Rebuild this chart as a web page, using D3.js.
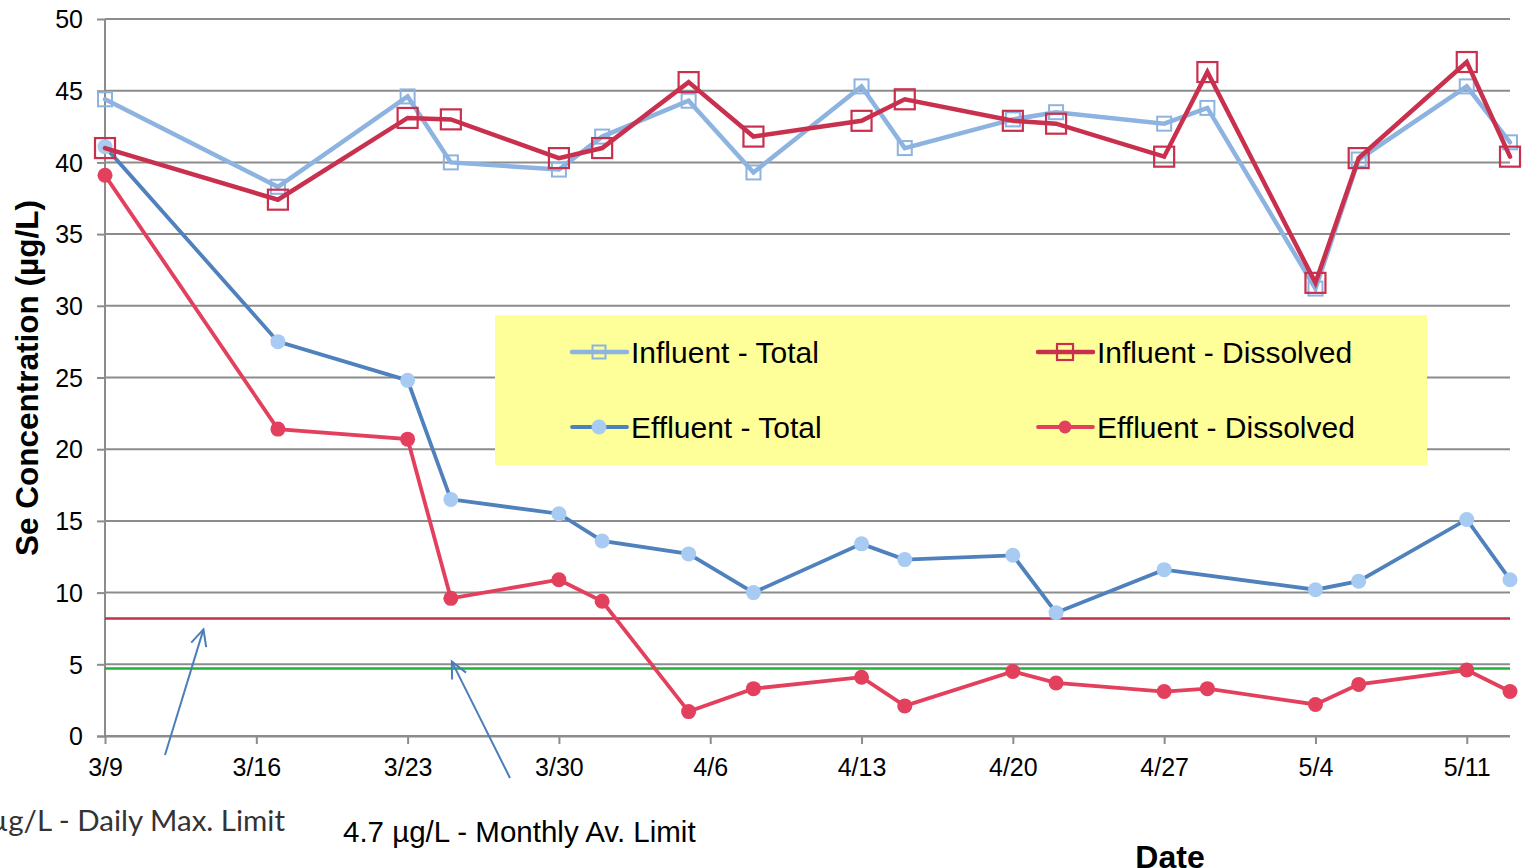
<!DOCTYPE html>
<html>
<head>
<meta charset="utf-8">
<script src="https://cdn.jsdelivr.net/npm/d3@7"></script>
<style>
  html, body { margin: 0; padding: 0; background: #fff; }
  svg { display: block; font-family: "Liberation Sans", Arial, sans-serif; }
</style>
</head>
<body>
<svg id="chart" width="1530" height="868"></svg>
<script>
// Sampling dates (month/day, same year)
const sampleDates = ["3/9","3/17","3/23","3/25","3/30","4/1","4/5","4/8","4/13","4/15",
                     "4/20","4/22","4/27","4/29","5/4","5/6","5/11","5/13"];

// Se concentrations (µg/L); null = not sampled
const influentTotal     = [44.4, 38.3, 44.6, 40.0, 39.5, 41.8, 44.3, 39.3, 45.3, 41.0,
                           43.0, 43.5, 42.7, 43.8, 31.2, 40.2, 45.3, 41.4];
const influentDissolved = [41.0, 37.4, 43.1, 43.0, 40.3, 41.0, 45.6, 41.8, 42.9, 44.4,
                           42.9, 42.7, 40.4, 46.3, 31.6, 40.3, 47.0, 40.4];
const effluentTotal     = [41.1, 27.5, 24.8, 16.5, 15.5, 13.6, 12.7, 10.0, 13.4, 12.3,
                           12.6, 8.6, 11.6, null, 10.2, 10.8, 15.1, 10.9];
const effluentDissolved = [39.1, 21.4, 20.7, 9.6, 10.9, 9.4, 1.7, 3.3, 4.1, 2.1,
                           4.5, 3.7, 3.1, 3.3, 2.2, 3.6, 4.6, 3.1];

// Permit limits (µg/L)
const dailyMaxLimit = 8.2;
const monthlyAvLimit = 4.7;

// Axis ticks
const xTickLabels = ["3/9","3/16","3/23","3/30","4/6","4/13","4/20","4/27","5/4","5/11"];
const yTicks = [0, 5, 10, 15, 20, 25, 30, 35, 40, 45, 50];

const parseMD = s => { const [m, d] = s.split("/").map(Number); return new Date(2015, m - 1, d); };

const svg = d3.select("#chart");
const plot = { left: 105, right: 1510, top: 19, bottom: 736 };

const x = d3.scaleTime()
  .domain([parseMD("3/9"), parseMD("5/13")])
  .range([plot.left, plot.right]);
const y = d3.scaleLinear().domain([0, 50]).range([plot.bottom, plot.top]);

const gridColor = "#8c8c8c";
const tickFont = 25;

// Value axis: short outside ticks and labels
svg.append("g")
  .attr("transform", `translate(${plot.left},0)`)
  .call(d3.axisLeft(y).tickValues(yTicks).tickSize(8).tickFormat(d3.format("d")))
  .call(g => g.select(".domain").remove())
  .call(g => g.selectAll("line").attr("stroke", gridColor).attr("stroke-width", 2))
  .call(g => g.selectAll("text").attr("x", -22).attr("dy", "0.35em")
    .attr("font-size", tickFont).attr("fill", "#000").attr("font-family", "Liberation Sans, Arial, sans-serif"));

// Horizontal gridlines
svg.append("g")
  .selectAll("line")
  .data(yTicks)
  .join("line")
  .attr("x1", plot.left).attr("x2", plot.right)
  .attr("y1", d => y(d)).attr("y2", d => y(d))
  .attr("stroke", gridColor).attr("stroke-width", 2);

// Vertical axis line
svg.append("line")
  .attr("x1", plot.left).attr("x2", plot.left)
  .attr("y1", plot.top).attr("y2", plot.bottom)
  .attr("stroke", gridColor).attr("stroke-width", 2);

// Date axis
svg.append("g")
  .attr("transform", `translate(0,${plot.bottom})`)
  .call(d3.axisBottom(x).tickValues(xTickLabels.map(parseMD)).tickSize(8)
    .tickFormat((d, i) => xTickLabels[i]))
  .call(g => g.select(".domain").attr("stroke", gridColor).attr("stroke-width", 2)
    .attr("d", `M${plot.left - 8},0.5H${plot.right}`))
  .call(g => g.selectAll("line").attr("stroke", gridColor).attr("stroke-width", 2))
  .call(g => g.selectAll("text").attr("y", 22).attr("dy", "0.71em")
    .attr("font-size", tickFont).attr("fill", "#000").attr("font-family", "Liberation Sans, Arial, sans-serif"));

// Limit lines
svg.append("line")
  .attr("x1", plot.left).attr("x2", plot.right)
  .attr("y1", y(dailyMaxLimit)).attr("y2", y(dailyMaxLimit))
  .attr("stroke", "#C0304A").attr("stroke-width", 2.5);
svg.append("line")
  .attr("x1", plot.left).attr("x2", plot.right)
  .attr("y1", y(monthlyAvLimit)).attr("y2", y(monthlyAvLimit))
  .attr("stroke", "#22B03C").attr("stroke-width", 2.5);

// Series definitions
const dates = sampleDates.map(parseMD);
const series = [
  { name: "Influent - Total", values: influentTotal, line: "#8DB3E0", marker: "square",
    stroke: "#8DB3E0", size: 14, lw: 4.5, mw: 2 },
  { name: "Influent - Dissolved", values: influentDissolved, line: "#C9304D", marker: "square",
    stroke: "#C9304D", size: 20, lw: 4.5, mw: 2.2 },
  { name: "Effluent - Total", values: effluentTotal, line: "#4F81BD", marker: "circle",
    fill: "#A7CBF3", r: 7.5, lw: 3.8 },
  { name: "Effluent - Dissolved", values: effluentDissolved, line: "#E3405E", marker: "circle",
    fill: "#E3405E", r: 7.5, lw: 3.8 }
];

const lineGen = d3.line()
  .defined(d => d.v !== null)
  .x(d => x(d.date)).y(d => y(d.v));

function drawMarker(g, s, cx, cy) {
  if (s.marker === "square") {
    g.append("rect")
      .attr("x", cx - s.size / 2).attr("y", cy - s.size / 2)
      .attr("width", s.size).attr("height", s.size)
      .attr("fill", "none").attr("stroke", s.stroke).attr("stroke-width", s.mw);
  } else {
    g.append("circle").attr("cx", cx).attr("cy", cy).attr("r", s.r).attr("fill", s.fill);
  }
}

// Draw in order: influent total, effluent total, effluent dissolved, influent dissolved
const drawOrder = [0, 2, 3, 1];
drawOrder.forEach(i => {
  const s = series[i];
  const pts = dates.map((date, k) => ({ date, v: s.values[k] })).filter(d => d.v !== null);
  const g = svg.append("g");
  g.append("path").datum(pts)
    .attr("d", lineGen)
    .attr("fill", "none").attr("stroke", s.line).attr("stroke-width", s.lw)
    .attr("stroke-linejoin", "miter").attr("stroke-linecap", "round");
  pts.forEach(p => drawMarker(g, s, x(p.date), y(p.v)));
});

// Legend
const legend = svg.append("g");
legend.append("rect")
  .attr("x", 495).attr("y", 315).attr("width", 932).attr("height", 150)
  .attr("fill", "#FFFF99");
const legendPos = [
  { s: series[0], lx: 572, ly: 352 },
  { s: series[1], lx: 1038, ly: 352 },
  { s: series[2], lx: 572, ly: 427 },
  { s: series[3], lx: 1038, ly: 427 }
];
legendPos.forEach(({ s, lx, ly }) => {
  legend.append("line")
    .attr("x1", lx).attr("x2", lx + 55).attr("y1", ly).attr("y2", ly)
    .attr("stroke", s.line).attr("stroke-width", s.lw).attr("stroke-linecap", "round");
  const m = s.marker === "square"
    ? Object.assign({}, s, { size: s === series[0] ? 13 : 16 })
    : Object.assign({}, s, { r: s === series[2] ? 7.5 : 6.5 });
  drawMarker(legend, m, lx + 27, ly);
  legend.append("text")
    .attr("x", lx + 59).attr("y", ly).attr("dy", "0.36em")
    .attr("font-size", 30).attr("fill", "#000")
    .text(s.name);
});

// Axis titles
svg.append("text")
  .attr("transform", "translate(38,378) rotate(-90)")
  .attr("text-anchor", "middle")
  .attr("font-size", 31.5).attr("font-weight", "bold").attr("fill", "#000")
  .text("Se Concentration (µg/L)");

svg.append("text")
  .attr("x", 1170).attr("y", 868)
  .attr("text-anchor", "middle")
  .attr("font-size", 32).attr("font-weight", "bold").attr("fill", "#000")
  .text("Date");

// Limit annotations with arrows
const arrowColor = "#4A7EBB";
function arrow(x1, y1, x2, y2) {
  const ang = Math.atan2(y2 - y1, x2 - x1);
  const len = 18, spread = Math.PI / 7;
  svg.append("line")
    .attr("x1", x1).attr("y1", y1).attr("x2", x2).attr("y2", y2)
    .attr("stroke", arrowColor).attr("stroke-width", 2);
  const pts = [
    [x2 - len * Math.cos(ang - spread), y2 - len * Math.sin(ang - spread)],
    [x2, y2],
    [x2 - len * Math.cos(ang + spread), y2 - len * Math.sin(ang + spread)]
  ];
  svg.append("path")
    .attr("d", d3.line()(pts))
    .attr("fill", "none").attr("stroke", arrowColor).attr("stroke-width", 2);
}

const tip1 = [x(parseMD("3/13")) + 12, y(dailyMaxLimit) + 11];
arrow(165, 755, tip1[0], tip1[1]);
const tip2 = [x(parseMD("3/25")) + 1, y(monthlyAvLimit) - 7];
arrow(510, 778, tip2[0], tip2[1]);

svg.append("text")
  .attr("x", 285).attr("y", 831)
  .attr("text-anchor", "end")
  .attr("font-family", "Lato, 'Open Sans', sans-serif")
  .attr("font-size", 29.5).attr("fill", "#333")
  .text("8.2 µg/L - Daily Max. Limit");

svg.append("text")
  .attr("x", 343).attr("y", 842)
  .attr("font-size", 29.5).attr("fill", "#000")
  .text("4.7 µg/L - Monthly Av. Limit");
</script>
</body>
</html>
